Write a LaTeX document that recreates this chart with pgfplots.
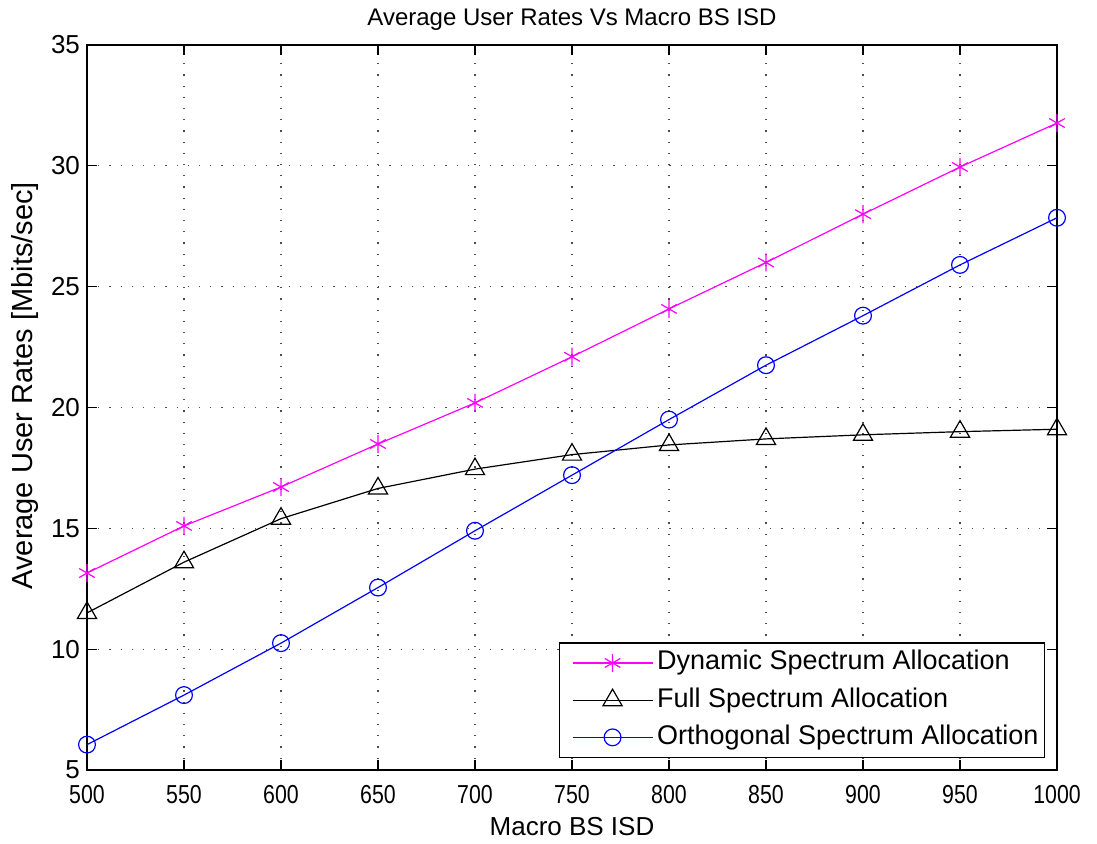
\documentclass[border=0pt]{standalone}
\usepackage{fontspec}
\setmainfont{Liberation Sans}
\newfontfamily\narrowfont[FakeStretch=0.82]{Liberation Sans}
\usepackage{pgfplots}
\pgfplotsset{compat=1.18}
\definecolor{mymag}{RGB}{255,0,255}
\definecolor{myblue}{RGB}{0,0,255}
\begin{document}
\begin{tikzpicture}
\begin{axis}[
  scale only axis,
  width=485pt, height=362.5pt,
  xmin=500, xmax=1000, ymin=5, ymax=35,
  xtick={500,550,...,1000}, ytick={5,10,...,35},
  /pgf/number format/assume math mode=true,
  /pgf/number format/1000 sep={},
  xticklabel style={font=\narrowfont\fontsize{13}{15}\selectfont, anchor=base, yshift=-16.5pt},
  yticklabel style={font=\fontsize{13}{15}\selectfont},
  title={Average User Rates Vs Macro BS ISD},
  title style={font=\fontsize{12}{14}\selectfont, at={(axis description cs:0.5,1.011)}, anchor=base},
  xlabel={Macro BS ISD},
  xlabel style={font=\fontsize{13}{15}\selectfont, at={(axis description cs:0.5,-0.0897)}, anchor=base},
  ylabel={Average User Rates [Mbits/sec]},
  ylabel style={font=\fontsize{14.5}{16}\selectfont, at={(axis description cs:-0.0557,0.53)}, anchor=base},
  tick align=inside, major tick length=5pt,
  axis line style={line width=0.9pt},
  tick style={line width=0.6pt, black},
  grid=major,
  major grid style={dash pattern=on 0.6pt off 5pt, gray!60!black, line width=0.6pt},
  legend style={at={(axis description cs:0.9876,0.0166)}, anchor=south east,
    font=\fontsize{13.5}{15}\selectfont, draw=black, line width=0.6pt,
    inner sep=1pt, row sep=0.6pt,
    nodes={text height=10.5pt, text depth=3.5pt, inner sep=2pt},
    column 2/.style={text width=182pt}},
  legend cell align=left,
  legend image code/.code={
    \path[draw=none] (-5.5pt,0pt) -- (40pt,0pt);
    \draw[#1, mark=none] (0pt,0pt) -- (40pt,0pt);
    \draw[#1, only marks] plot coordinates {(20pt,0pt)};
  },
  every axis plot/.append style={line width=0.6pt},
]
\addplot[color=mymag, mark=asterisk, mark size=4.5pt] coordinates {
(500,13.15) (550,15.1) (600,16.71) (650,18.49) (700,20.19) (750,22.1) (800,24.08) (850,26.0) (900,28.0) (950,29.95) (1000,31.77)
};
\addlegendentry{Dynamic Spectrum Allocation}
\addplot[color=black, mark=triangle, mark size=5.5pt] coordinates {
(500,11.5) (550,13.6) (600,15.4) (650,16.65) (700,17.45) (750,18.05) (800,18.45) (850,18.7) (900,18.87) (950,19.0) (1000,19.1)
};
\addlegendentry{Full Spectrum Allocation}
\addplot[color=myblue, mark=o, mark size=4.2pt] coordinates {
(500,6.05) (550,8.1) (600,10.25) (650,12.55) (700,14.9) (750,17.2) (800,19.5) (850,21.75) (900,23.8) (950,25.9) (1000,27.85)
};
\addlegendentry{Orthogonal Spectrum Allocation}
\coordinate (sw) at (rel axis cs:0,0);
\coordinate (ne) at (rel axis cs:1,1);
\end{axis}
\pgfresetboundingbox
\path[use as bounding box] ([shift={(-43.5pt,-36.5pt)}]sw) rectangle ([shift={(20pt,22.5pt)}]ne);
\end{tikzpicture}
\end{document}
